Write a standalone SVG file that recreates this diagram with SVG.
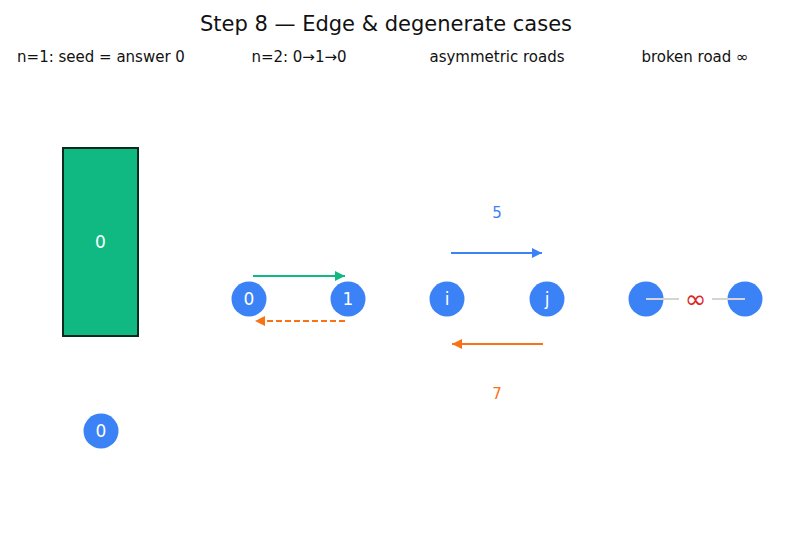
<svg xmlns="http://www.w3.org/2000/svg" width="791" height="539" viewBox="0 0 791 539">
<style>
text{font-family:"DejaVu Sans",sans-serif;}
.sub{font-size:15px;fill:#111;text-anchor:middle;}
.node circle{fill:#3b82f6;}
.node text{fill:#fff;font-size:17px;text-anchor:middle;dominant-baseline:central;}
.lbl{font-size:15px;text-anchor:middle;dominant-baseline:central;}
</style>
<defs>
<marker id="ag" viewBox="0 0 10 10" refX="10" refY="5" markerWidth="10" markerHeight="10" markerUnits="userSpaceOnUse" orient="auto"><path d="M0,0L10,5L0,10z" fill="#10b981"/></marker>
<marker id="ao" viewBox="0 0 10 10" refX="10" refY="5" markerWidth="10" markerHeight="10" markerUnits="userSpaceOnUse" orient="auto"><path d="M0,0L10,5L0,10z" fill="#f97316"/></marker>
<marker id="ab" viewBox="0 0 10 10" refX="10" refY="5" markerWidth="10" markerHeight="10" markerUnits="userSpaceOnUse" orient="auto"><path d="M0,0L10,5L0,10z" fill="#3b82f6"/></marker>
</defs>
<rect width="791" height="539" fill="#fff"/>
<text x="386" y="31" font-size="21" text-anchor="middle" fill="#111">Step 8 — Edge &amp; degenerate cases</text>
<text class="sub" x="101" y="62">n=1: seed = answer 0</text>
<text class="sub" x="299" y="62">n=2: 0→1→0</text>
<text class="sub" x="497" y="62">asymmetric roads</text>
<text class="sub" x="695" y="62">broken road ∞</text>
<g id="seed">
<rect x="63" y="148" width="75" height="188" fill="#10b981" stroke="#0b2a1e" stroke-width="2"/>
<text x="100.5" y="242" font-size="17" fill="#fff" text-anchor="middle" dominant-baseline="central">0</text>
</g>
<g id="connectors">
<line x1="253" y1="276" x2="345" y2="276" stroke="#10b981" stroke-width="2" marker-end="url(#ag)"/>
<line x1="345" y1="321" x2="255" y2="321" stroke="#f97316" stroke-width="2" stroke-dasharray="6,3" marker-end="url(#ao)"/>
<line x1="451" y1="253" x2="542" y2="253" stroke="#3b82f6" stroke-width="2" marker-end="url(#ab)"/>
<line x1="543" y1="344" x2="452" y2="344" stroke="#f97316" stroke-width="2" marker-end="url(#ao)"/>
<text class="lbl" x="497" y="213" fill="#3b82f6">5</text>
<text class="lbl" x="497" y="394" fill="#f97316">7</text>
</g>
<g id="n1_0" class="node"><circle cx="101" cy="431" r="17.5"/><text x="101" y="431">0</text></g>
<g id="n2_0" class="node"><circle cx="249" cy="299" r="17.5"/><text x="249" y="299">0</text></g>
<g id="n2_1" class="node"><circle cx="348" cy="299" r="17.5"/><text x="348" y="299">1</text></g>
<g id="asym_i" class="node"><circle cx="447" cy="299" r="17.5"/><text x="447" y="299">i</text></g>
<g id="asym_j" class="node"><circle cx="547" cy="299" r="17.5"/><text x="547" y="299">j</text></g>
<g id="broken_a" class="node"><circle cx="646" cy="299" r="17.5"/></g>
<g id="broken_b" class="node"><circle cx="745" cy="299" r="17.5"/></g>
<g id="broken_edge">
<line x1="646" y1="299" x2="679" y2="299" stroke="#d4d4d4" stroke-width="2"/>
<line x1="712" y1="299" x2="745" y2="299" stroke="#d4d4d4" stroke-width="2"/>
<text x="695.5" y="299" font-size="26" fill="#dc2626" text-anchor="middle" dominant-baseline="central">∞</text>
</g>
</svg>
